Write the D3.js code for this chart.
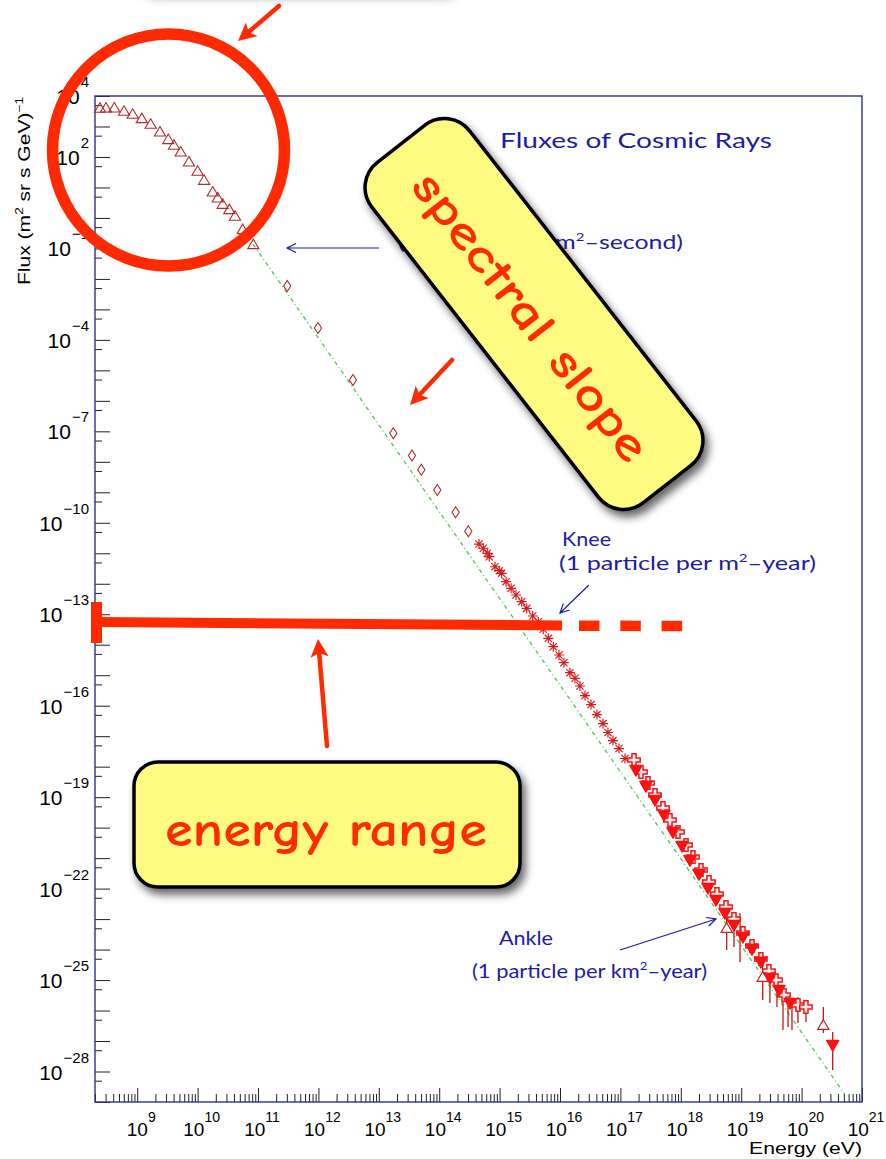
<!DOCTYPE html>
<html>
<head>
<meta charset="utf-8">
<script src="https://cdn.jsdelivr.net/npm/d3@7"></script>
<style>
  html, body { margin: 0; padding: 0; background: #fff; }
  svg { display: block; }
</style>
</head>
<body>
<svg id="chart" width="886" height="1159"></svg>
<script>
// ---------- data: energy in eV, flux in (m^2 sr s GeV)^-1 ----------
// low-energy direct measurements (open triangles)
const triE = [2.42e8, 3.04e8, 4.18e8, 6.04e8, 8.41e8, 1.19e9, 1.67e9, 2.38e9, 3.27e9, 4.06e9, 5.25e9,
              7.19e9, 1.00e10, 1.28e10, 1.78e10, 2.15e10, 2.60e10, 3.35e10, 4.16e10, 5.57e10, 8.36e10];
const triF = [4.04e3, 4.13e3, 4.13e3, 3.22e3, 2.57e3, 1.85e3, 1.21e3, 6.76e2, 3.80e2, 2.47e2, 1.49e2,
              7.0e1, 3.47e1, 1.75e1, 7.26, 4.61, 2.86, 1.92, 1.16, 4.24e-1, 1.36e-1];
// balloon / satellite points (open diamonds)
const diaE = [3.05e11, 9.84e11, 3.73e12, 1.74e13, 3.54e13, 5.05e13, 9.29e13, 1.87e14, 3.03e14];
const diaF = [5.85e-3, 2.45e-4, 4.83e-6, 8.63e-8, 1.61e-8, 5.51e-9, 1.19e-9, 2.22e-10, 5.30e-11];
// air-shower arrays around the knee (asterisks)
const starE = [4.56e14, 5.37e14, 6.25e14, 6.75e14, 8.38e14, 9.89e14, 1.08e15, 1.28e15, 1.55e15, 1.87e15,
               2.32e15, 2.81e15, 3.53e15, 4.38e15, 5.28e15, 6.40e15, 7.74e15, 9.62e15, 1.16e16, 1.46e16,
               1.77e16, 2.14e16, 2.59e16, 3.26e16, 4.09e16, 5.15e16, 6.22e16, 7.53e16, 9.48e16, 1.19e17];
const starF = [2.01e-11, 1.46e-11, 9.98e-12, 7.71e-12, 3.62e-12, 2.68e-12, 2.20e-12, 1.17e-12, 7.10e-13, 4.28e-13,
               2.58e-13, 1.56e-13, 8.75e-14, 5.69e-14, 3.21e-14, 1.62e-14, 8.61e-15, 4.60e-15, 2.57e-15, 1.21e-15,
               7.92e-16, 4.43e-16, 2.15e-16, 1.09e-16, 5.12e-17, 2.59e-17, 1.32e-17, 7.18e-18, 3.93e-18, 1.85e-18];
// highest-energy experiments (filled down-triangles)
const downE = [1.81e17, 2.65e17, 3.74e17, 5.27e17, 7.43e17, 1.05e18, 1.42e18, 2.00e18, 2.82e18, 3.82e18,
               5.38e18, 7.59e18, 1.07e19, 1.51e19, 2.12e19, 2.99e19, 4.23e19, 6.43e19, 3.27e20];
const downF = [7.78e-19, 2.32e-19, 8.07e-20, 2.60e-20, 7.19e-21, 2.50e-21, 8.67e-22, 3.01e-22, 1.05e-22, 4.23e-23,
               1.58e-23, 6.40e-24, 2.59e-24, 1.04e-24, 3.92e-25, 1.17e-25, 4.72e-26, 1.77e-26, 7.41e-28];
// highest-energy experiments (open crosses)
const crossE = [1.68e17, 2.19e17, 2.86e17, 3.74e17, 5.07e17, 6.62e17, 8.97e17, 1.22e18, 1.59e18, 2.16e18, 2.93e18,
                3.97e18, 5.60e18, 7.59e18, 1.07e19, 1.51e19, 2.12e19, 2.88e19, 3.77e19, 5.11e19, 8.71e19, 1.18e20];
const crossF = [1.66e-18, 6.68e-19, 2.91e-19, 1.18e-19, 4.41e-20, 1.78e-20, 7.19e-21, 2.69e-21, 1.09e-21, 4.07e-22, 1.65e-22,
                6.65e-23, 2.49e-23, 1.01e-23, 3.50e-24, 1.31e-24, 4.91e-25, 1.98e-25, 1.00e-25, 3.24e-26, 1.52e-26, 1.31e-26];
// ankle region (open triangles)
const tailTriE = [5.75e18, 2.27e19, 2.29e20];
const tailTriF = [5.11e-24, 1.26e-25, 3.36e-27];
// vertical error bars in the tail
const errE  = [5.75e18, 7.59e18, 9.55e18, 2.27e19, 2.99e19, 3.91e19, 4.92e19, 5.96e19, 6.93e19, 8.71e19, 1.18e20, 2.29e20, 3.27e20];
const errHi = [2.90e-23, 1.58e-23, 1.58e-23, 3.12e-25, 1.26e-25, 1.00e-25, 3.77e-26, 2.22e-26, 2.22e-26, 2.78e-26, 1.77e-26, 1.31e-26, 1.98e-27];
const errLo = [9.68e-25, 1.22e-24, 3.92e-25, 2.22e-26, 1.77e-26, 1.31e-26, 2.30e-27, 2.88e-27, 2.30e-27, 3.90e-27, 4.21e-27, 1.83e-27, 1.12e-28];
// reference power law E^-2.85
const slopeE = [8.3e10, 5.2e20];
const slopeF = [1.37e-1, 1.77e-29];

// axis ticks
const xLabelExp = [9, 10, 11, 12, 13, 14, 15, 16, 17, 18, 19, 20, 21];
const yLabelExp = [4, 2, -1, -4, -7, -10, -13, -16, -19, -22, -25, -28];

// ---------- layout ----------
const svg = d3.select('#chart');
const F = { left: 95, right: 862, top: 96, bottom: 1102 };
const x = d3.scaleLog().domain([2e8, 1e21]).range([F.left, F.right]);
const y = d3.scaleLog().domain([1e-29, 1e4]).range([F.bottom, F.top]);

const BLUE = '#1c1ca6', FRAME = '#2f2f95', RED = '#ff2a00', YELLOW = '#fffa80';
const AXIS_FONT = "'Liberation Sans', Arial, Helvetica, sans-serif";
const NOTE_FONT = "Lato, 'DejaVu Sans', sans-serif";
const HAND_FONT = "'Comic Sans MS', 'Comic Neue', Lato, sans-serif";

const defs = svg.append('defs');
const shadow = defs.append('filter').attr('id', 'shadow')
  .attr('x', '-20%').attr('y', '-20%').attr('width', '140%').attr('height', '140%');
shadow.append('feDropShadow').attr('dx', 4).attr('dy', 6).attr('stdDeviation', 4.5)
  .attr('flood-color', '#000').attr('flood-opacity', 0.6);

// ---------- axes ----------
const decadesX = d3.range(8, 21).flatMap(n => d3.range(1, 10).map(k => k * Math.pow(10, n)))
  .filter(v => v >= 2e8 && v <= 1e21);
const majorX = xLabelExp.map(e => Math.pow(10, e));
const minorX = decadesX.filter(v => !majorX.some(m => Math.abs(m - v) / m < 1e-9));

const gx = svg.append('g').attr('transform', `translate(0,${F.bottom})`);
gx.append('g').call(d3.axisBottom(x).tickValues(majorX).tickSize(-14).tickFormat(''));
gx.append('g').call(d3.axisBottom(x).tickValues(minorX).tickSize(-8).tickFormat(''));
gx.selectAll('.domain').remove();
gx.selectAll('.tick line').attr('stroke', '#222').attr('stroke-width', 1);

const majorY = d3.range(-29, 5).map(e => Math.pow(10, e));
const minorY = d3.range(-29, 4).map(e => 5 * Math.pow(10, e));
const gy = svg.append('g').attr('transform', `translate(${F.left},0)`);
gy.append('g').call(d3.axisLeft(y).tickValues(majorY).tickSize(-15).tickFormat(''));
gy.append('g').call(d3.axisLeft(y).tickValues(minorY).tickSize(-7).tickFormat(''));
gy.selectAll('.domain').remove();
gy.selectAll('.tick line').attr('stroke', '#222').attr('stroke-width', 1);

// frame
svg.append('rect').attr('x', F.left).attr('y', F.top)
  .attr('width', F.right - F.left).attr('height', F.bottom - F.top)
  .attr('fill', 'none').attr('stroke', FRAME).attr('stroke-width', 1.4);

const fmtExp = e => (e < 0 ? '\u2212' : '') + Math.abs(e);

// x tick labels
xLabelExp.forEach(e => {
  const t = svg.append('text').attr('x', x(Math.pow(10, e)) + 4).attr('y', 1136)
    .attr('text-anchor', 'middle').attr('font-family', AXIS_FONT).attr('fill', '#000');
  t.append('tspan').attr('font-size', 19).text('10');
  t.append('tspan').attr('font-size', 14).attr('dy', -14).text(fmtExp(e));
});
// y tick labels
yLabelExp.forEach(e => {
  const t = svg.append('text').attr('x', 89).attr('y', y(Math.pow(10, e)) + 8)
    .attr('text-anchor', 'end').attr('font-family', AXIS_FONT).attr('fill', '#000');
  t.append('tspan').attr('font-size', 21).text('10');
  t.append('tspan').attr('font-size', 15).attr('dy', -17).attr('dx', 1).text(fmtExp(e));
});

// axis titles
svg.append('text').attr('x', 862).attr('y', 1154).attr('text-anchor', 'end')
  .attr('font-family', AXIS_FONT).attr('font-size', 17).attr('textLength', 113)
  .attr('lengthAdjust', 'spacingAndGlyphs').text('Energy (eV)');
const yt = svg.append('text').attr('transform', 'translate(30,285) rotate(-90)')
  .attr('font-family', AXIS_FONT).attr('font-size', 17).attr('textLength', 188)
  .attr('lengthAdjust', 'spacingAndGlyphs');
yt.append('tspan').text('Flux (m');
yt.append('tspan').attr('font-size', 11).attr('dy', -7).text('2');
yt.append('tspan').attr('dy', 7).text(' sr s GeV)');
yt.append('tspan').attr('font-size', 11).attr('dy', -7).text('\u22121');

// ---------- reference power law ----------
svg.append('path')
  .datum(slopeE.map((e, i) => [e, slopeF[i]]))
  .attr('d', d3.line().x(d => x(d[0])).y(d => y(d[1])))
  .attr('fill', 'none').attr('stroke', '#4fc44f').attr('stroke-width', 1.3)
  .attr('stroke-dasharray', '4,3,1,3');

// ---------- data marks ----------
const pts = (E, Fl) => E.map((e, i) => ({ e, f: Fl[i] }));
const plot = svg.append('g');

const triPath = 'M0,-5.2L5.6,4.3L-5.6,4.3Z';
const diaPath = 'M0,-5.5L3.6,0L0,5.5L-3.6,0Z';
const downPath = 'M-6,-4.5L6,-4.5L0,6Z';
const ra = 5, rd = ra * 0.72;
const starPath = `M${-ra},0L${ra},0M0,${-ra}L0,${ra}M${-rd},${-rd}L${rd},${rd}M${-rd},${rd}L${rd},${-rd}`;

// error bars
plot.selectAll('line.err').data(errE.map((e, i) => ({ e, lo: errLo[i], hi: errHi[i] })))
  .join('line').attr('class', 'err')
  .attr('x1', d => x(d.e)).attr('x2', d => x(d.e))
  .attr('y1', d => y(d.hi)).attr('y2', d => y(d.lo))
  .attr('stroke', '#c81414').attr('stroke-width', 1.3);

plot.selectAll('path.tri').data(pts(triE, triF)).join('path').attr('class', 'tri')
  .attr('transform', d => `translate(${x(d.e)},${y(d.f)})`).attr('d', triPath)
  .attr('fill', 'none').attr('stroke', '#b32a2a').attr('stroke-width', 1.1);

plot.selectAll('path.dia').data(pts(diaE, diaF)).join('path').attr('class', 'dia')
  .attr('transform', d => `translate(${x(d.e)},${y(d.f)})`).attr('d', diaPath)
  .attr('fill', 'none').attr('stroke', '#b02828').attr('stroke-width', 1.1);

plot.selectAll('path.star').data(pts(starE, starF)).join('path').attr('class', 'star')
  .attr('transform', d => `translate(${x(d.e)},${y(d.f)})`).attr('d', starPath)
  .attr('fill', 'none').attr('stroke', '#dc1c1c').attr('stroke-width', 1.2);

plot.selectAll('path.cross').data(pts(crossE, crossF)).join('path').attr('class', 'cross')
  .attr('transform', d => `translate(${x(d.e)},${y(d.f)})`)
  .attr('d', d3.symbol().type(d3.symbolCross).size(85))
  .attr('fill', '#ffe8e8').attr('stroke', '#f01818').attr('stroke-width', 1.5);

plot.selectAll('path.down').data(pts(downE, downF)).join('path').attr('class', 'down')
  .attr('transform', d => `translate(${x(d.e)},${y(d.f)})`).attr('d', downPath)
  .attr('fill', '#ff1010').attr('stroke', '#ff1010').attr('stroke-width', 1.5)
  .attr('stroke-linejoin', 'round');

plot.selectAll('path.tailtri').data(pts(tailTriE, tailTriF)).join('path').attr('class', 'tailtri')
  .attr('transform', d => `translate(${x(d.e)},${y(d.f)})`).attr('d', triPath)
  .attr('fill', '#fff').attr('stroke', '#c02020').attr('stroke-width', 1.2);

// ---------- blue annotations ----------
function note(tx, ty, parts, len, size) {
  const t = svg.append('text').attr('x', tx).attr('y', ty).attr('fill', BLUE)
    .attr('font-family', NOTE_FONT).attr('font-size', size);
  if (len) t.attr('textLength', len).attr('lengthAdjust', 'spacingAndGlyphs');
  parts.forEach(p => {
    const s = t.append('tspan').text(p.t);
    if (p.sup) s.attr('font-size', size * 0.6).attr('dy', -size * 0.4);
    if (p.down) s.attr('dy', size * 0.4);
  });
}
function blueArrow(x1, y1, x2, y2) {
  const dx = x2 - x1, dy = y2 - y1, L = Math.hypot(dx, dy), ux = dx / L, uy = dy / L;
  const hl = 9, hw = 4.5;
  svg.append('path')
    .attr('d', `M${x1},${y1}L${x2},${y2}M${x2 - ux * hl - uy * hw},${y2 - uy * hl + ux * hw}L${x2},${y2}L${x2 - ux * hl + uy * hw},${y2 - uy * hl - ux * hw}`)
    .attr('fill', 'none').attr('stroke', BLUE).attr('stroke-width', 1.2);
}

note(500, 148, [{ t: 'Fluxes of Cosmic Rays' }], 272, 22);
note(398, 249, [{ t: '(1 particle per m' }, { t: '2', sup: true }, { t: '\u2013second)', down: true }], 285, 20);
blueArrow(379, 248, 287, 248);
note(562, 546, [{ t: 'Knee' }], 49, 20);
note(559, 570, [{ t: '(1 particle per m' }, { t: '2', sup: true }, { t: '\u2013year)', down: true }], 257, 20);
blueArrow(589, 585, 560, 613);
note(499, 945, [{ t: 'Ankle' }], 54, 20);
note(472, 978, [{ t: '(1 particle per km' }, { t: '2', sup: true }, { t: '\u2013year)', down: true }], 235, 20);
blueArrow(620, 950, 716, 919);

// ---------- hand-drawn emphasis ----------
const over = svg.append('g');
function redArrow(x1, y1, x2, y2) {
  const dx = x2 - x1, dy = y2 - y1, L = Math.hypot(dx, dy), ux = dx / L, uy = dy / L;
  const hl = 18, hw = 9;
  const bx = x2 - ux * hl, by = y2 - uy * hl;
  over.append('line').attr('x1', x1).attr('y1', y1).attr('x2', bx + ux * 3).attr('y2', by + uy * 3)
    .attr('stroke', RED).attr('stroke-width', 4.5).attr('stroke-linecap', 'round');
  over.append('path')
    .attr('d', `M${x2},${y2}L${bx - uy * hw},${by + ux * hw}L${bx + ux * 4},${by + uy * 4}L${bx + uy * hw},${by - ux * hw}Z`)
    .attr('fill', RED);
}

over.append('circle').attr('cx', 168.5).attr('cy', 150).attr('r', 116)
  .attr('fill', 'none').attr('stroke', RED).attr('stroke-width', 11.5);
redArrow(279, 6, 238, 41);
redArrow(452, 360, 410, 405);

// energy range bar with end cap and dashed extension
over.append('line').attr('x1', 96).attr('y1', 622).attr('x2', 562).attr('y2', 625.5)
  .attr('stroke', RED).attr('stroke-width', 10);
over.append('line').attr('x1', 579).attr('y1', 625.7).attr('x2', 683).attr('y2', 626)
  .attr('stroke', RED).attr('stroke-width', 10.5).attr('stroke-dasharray', '20.5,20.8');
over.append('rect').attr('x', 91).attr('y', 602).attr('width', 11).attr('height', 41).attr('fill', RED);
redArrow(327, 746, 318, 639);

// box above the visible area, only its shadow shows
const topShadow = defs.append('filter').attr('id', 'softShadow')
  .attr('x', '-20%').attr('y', '-20%').attr('width', '140%').attr('height', '160%');
topShadow.append('feDropShadow').attr('dx', 3).attr('dy', 5).attr('stdDeviation', 5)
  .attr('flood-color', '#000').attr('flood-opacity', 0.45);
over.append('rect').attr('x', 131).attr('y', -90).attr('width', 333).attr('height', 80).attr('rx', 24)
  .attr('fill', YELLOW).attr('stroke', '#000').attr('stroke-width', 3.5).attr('filter', 'url(#softShadow)');

// "spectral slope" callout
const slopeBox = over.append('g').attr('filter', 'url(#shadow)');
const sg = slopeBox.append('g').attr('transform', 'translate(534,314) rotate(52)');
sg.append('rect').attr('x', -216).attr('y', -62).attr('width', 432).attr('height', 124).attr('rx', 32)
  .attr('fill', YELLOW).attr('stroke', '#000').attr('stroke-width', 3.5);
over.append('g').attr('transform', 'translate(534,314) rotate(52)')
  .append('text').attr('x', 0).attr('y', 20).attr('text-anchor', 'middle')
  .attr('font-family', HAND_FONT).attr('font-weight', 700).attr('font-size', 48)
  .attr('textLength', 354).attr('lengthAdjust', 'spacingAndGlyphs')
  .attr('fill', RED).text('spectral slope');

// "energy range" callout
over.append('rect').attr('x', 134).attr('y', 762).attr('width', 386).attr('height', 125).attr('rx', 24)
  .attr('fill', YELLOW).attr('stroke', '#000').attr('stroke-width', 3.5).attr('filter', 'url(#shadow)');
over.append('text').attr('x', 326).attr('y', 846).attr('text-anchor', 'middle')
  .attr('font-family', HAND_FONT).attr('font-weight', 700).attr('font-size', 48)
  .attr('textLength', 322).attr('lengthAdjust', 'spacingAndGlyphs')
  .attr('fill', RED).text('energy range');
</script>
</body>
</html>
